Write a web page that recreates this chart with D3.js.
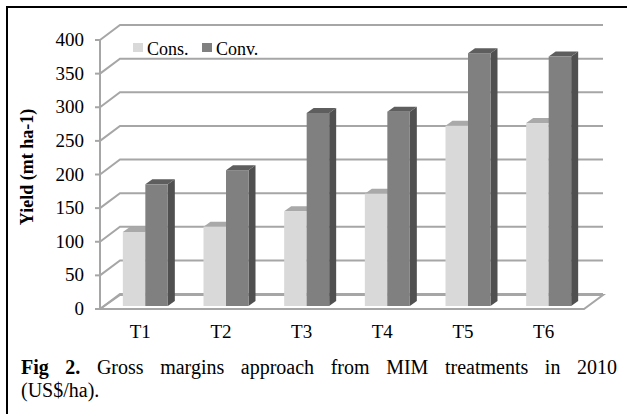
<!DOCTYPE html>
<html>
<head>
<meta charset="utf-8"/>
<script src="https://cdn.jsdelivr.net/npm/d3@7"></script>
<style>
body { margin: 0; background: #fff; }
svg { display: block; }
text { font-family: "Liberation Serif", "Times New Roman", Times, serif; }
</style>
</head>
<body>
<script>
// data
var categories = ["T1", "T2", "T3", "T4", "T5", "T6"];
var seriesNames = ["Cons.", "Conv."];
var consValues = [110, 118, 141, 167, 268, 272];
var convValues = [181, 202, 287, 289, 376, 371];
var yTicks = [0, 50, 100, 150, 200, 250, 300, 350, 400];

var W = 627, H = 414;
var svg = d3.select("body").append("svg")
	.attr("width", W)
	.attr("height", H);

// frame (only top and left edges visible)
svg.append("path")
	.attr("d", "M7,420 V7 H640")
	.attr("fill", "none")
	.attr("stroke", "#000")
	.attr("stroke-width", 2);

//scales for the front plane
var x = d3.scaleBand().domain(categories).range([100, 584]);
var y = d3.scaleLinear().domain([0, 400]).range([309, 40]);
var depthX = 20, depthY = -15;     // wall depth
var barDX = 5, barDY = -3;         // where the bars stand
var topDX = 7, topDY = -5;         // bar depth

var grid = svg.append("g");
// floor
grid.append("path")
	.attr("d", "M100," + y(0) + " H584 L" + (584 + depthX - 1) + "," + (y(0) + depthY + 1) + " H" + (100 + depthX) + " Z")
	.attr("fill", "none")
	.attr("stroke", "#a6a6a6")
	.attr("stroke-width", 2);
// back wall gridlines
grid.selectAll(".gl").data(yTicks).enter().append("path")
	.attr("class", "gl")
	.attr("d", function(d){ return "M100," + y(d) + " L" + (100 + depthX) + "," + (y(d) + depthY) + " H603"; })
	.attr("fill", "none")
	.attr("stroke", "#a6a6a6")
	.attr("stroke-width", 2);
// axis line and ticks
grid.append("line")
	.attr("x1", 100).attr("x2", 100)
	.attr("y1", y(400)).attr("y2", y(0))
	.attr("stroke", "#a6a6a6").attr("stroke-width", 2);
grid.selectAll(".tk").data(yTicks).enter().append("line")
	.attr("class", "tk")
	.attr("x1", 95).attr("x2", 100)
	.attr("y1", function(d){ return y(d); }).attr("y2", function(d){ return y(d); })
	.attr("stroke", "#a6a6a6").attr("stroke-width", 2);

svg.selectAll(".yl").data(yTicks).enter().append("text")
	.attr("class", "yl")
	.attr("x", 84)
	.attr("y", function(d){ return y(d) + 6; })
	.attr("text-anchor", "end")
	.attr("font-size", 19)
	.text(function(d){ return d; });

svg.selectAll(".xl").data(categories).enter().append("text")
	.attr("class", "xl")
	.attr("x", function(d){ return x(d) + x.bandwidth() / 2; })
	.attr("y", 338)
	.attr("text-anchor", "middle")
	.attr("font-size", 19)
	.text(function(d){ return d; });

svg.append("text")
	.attr("transform", "translate(33,167) rotate(-90)")
	.attr("text-anchor", "middle")
	.attr("font-size", 18)
	.attr("font-weight", "bold")
	.text("Yield (mt ha-1)");

// bars
var inner = d3.scaleBand().domain(seriesNames).range([0, 45]);
var faces = {
	"Cons.": { front: "#d9d9d9", side: "#bfbfbf", top: "#a9a9a9" },
	"Conv.": { front: "#808080", side: "#505050", top: "#5e5e5e" }
};
var rows = [];
categories.forEach(function(c, i){
	rows.push({ cat: c, s: "Cons.", v: consValues[i] });
	rows.push({ cat: c, s: "Conv.", v: convValues[i] });
});

var bars = svg.selectAll(".bar").data(rows).enter().append("g").attr("class", "bar");
bars.each(function(d){
	var g = d3.select(this);
	var x0 = x(d.cat) + (x.bandwidth() - 45) / 2 + inner(d.s) + barDX;
	var x1 = x0 + inner.bandwidth();
	var yb = y(0) + barDY, yt = y(d.v) + barDY;
	var f = faces[d.s];
	g.append("path")
		.attr("d", "M" + x1 + "," + yb + " L" + (x1 + topDX) + "," + (yb + topDY) + " L" + (x1 + topDX) + "," + (yt + topDY) + " L" + x1 + "," + yt + " Z")
		.attr("fill", f.side);
	g.append("path")
		.attr("d", "M" + x0 + "," + yt + " L" + (x0 + topDX) + "," + (yt + topDY) + " L" + (x1 + topDX) + "," + (yt + topDY) + " L" + x1 + "," + yt + " Z")
		.attr("fill", f.top);
	g.append("rect")
		.attr("x", x0).attr("y", yt)
		.attr("width", x1 - x0).attr("height", yb - yt)
		.attr("fill", f.front);
});

// legend
var leg = svg.selectAll(".leg").data(seriesNames).enter().append("g")
	.attr("class", "leg")
	.attr("transform", function(d, i){ return "translate(" + (133 + i * 69) + ",43)"; });
leg.append("rect").attr("width", 10).attr("height", 9)
	.attr("fill", function(d){ return faces[d].front; });
leg.append("text").attr("x", 14).attr("y", 12)
	.attr("font-size", 18)
	.text(function(d){ return d; });

// caption, first line justified word by word
var capWords = ["Fig", "2.", "Gross", "margins", "approach", "from", "MIM", "treatments", "in", "2010"];
var words = svg.selectAll(".cw").data(capWords).enter().append("text")
	.attr("class", "cw")
	.attr("y", 374)
	.attr("font-size", 20)
	.attr("font-weight", function(d, i){ return i < 2 ? "bold" : null; })
	.text(function(d){ return d; });
var widths = [];
words.each(function(){ widths.push(this.getComputedTextLength()); });
var gap = (617 - 21 - d3.sum(widths)) / (capWords.length - 1);
var cx = 21;
words.attr("x", function(d, i){ var p = cx; cx += widths[i] + gap; return p; });
svg.append("text").attr("x", 21).attr("y", 397).attr("font-size", 20).text("(US$/ha).");
</script>
</body>
</html>
